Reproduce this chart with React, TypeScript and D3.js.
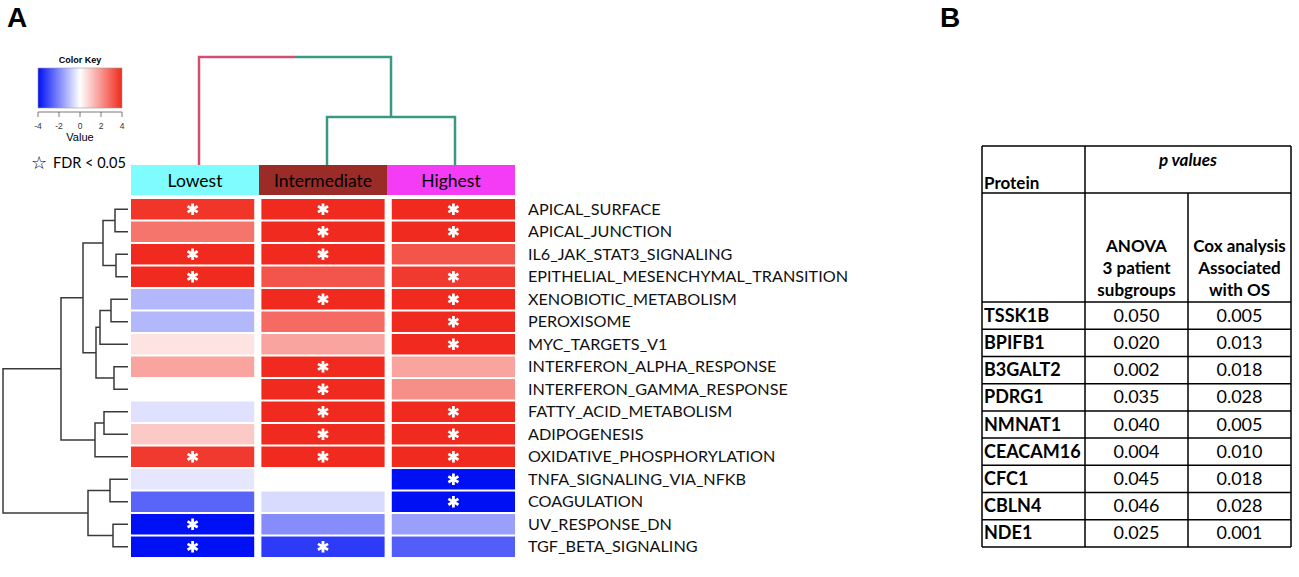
import React from 'react'
import * as d3 from 'd3'

// heatmap data (GSEA NES-like scores per subgroup)
const pathways = [
  'APICAL_SURFACE', 'APICAL_JUNCTION', 'IL6_JAK_STAT3_SIGNALING', 'EPITHELIAL_MESENCHYMAL_TRANSITION',
  'XENOBIOTIC_METABOLISM', 'PEROXISOME', 'MYC_TARGETS_V1', 'INTERFERON_ALPHA_RESPONSE',
  'INTERFERON_GAMMA_RESPONSE', 'FATTY_ACID_METABOLISM', 'ADIPOGENESIS', 'OXIDATIVE_PHOSPHORYLATION',
  'TNFA_SIGNALING_VIA_NFKB', 'COAGULATION', 'UV_RESPONSE_DN', 'TGF_BETA_SIGNALING',
]
const groups = ['Lowest', 'Intermediate', 'Highest']
const groupColors = ['#7ffcfd', '#9b2b27', '#f43cf6']

const lowestValues = [3.8, 2.6, 4, 4, -1.2, -1.2, 0.5, 1.7, 0, -0.5, 1.0, 3.7, -0.4, -2.6, -4, -4]
const intermediateValues = [4, 4, 4, 3.2, 4, 2.8, 1.7, 4, 4, 4, 4, 4, 0, -0.6, -1.9, -3.3]
const highestValues = [4, 4, 3.2, 3.7, 4, 4, 4, 1.7, 2.1, 4, 4, 4, -4, -4, -1.6, -2.7]

const lowestSig = [1, 0, 1, 1, 0, 0, 0, 0, 0, 0, 0, 1, 0, 0, 1, 1]
const intermediateSig = [1, 1, 1, 0, 1, 0, 0, 1, 1, 1, 1, 1, 0, 0, 0, 1]
const highestSig = [1, 1, 0, 1, 1, 1, 1, 0, 0, 1, 1, 1, 1, 1, 0, 0]

// hclust-style merges: negative = leaf (1-based), positive = earlier merge
const rowMerge: [number, number, number][] = [
  [-1, -2, 13], [-3, -4, 12], [1, 2, 25], [-5, -6, 17], [4, -7, 28],
  [-8, -9, 14], [5, 6, 32], [3, 7, 45], [-10, -11, 24], [9, -12, 33],
  [8, 10, 67], [-13, -14, 18], [-15, -16, 15], [12, 13, 40], [11, 14, 125],
]
const colMerge: [number, number, number][] = [[-2, -3, 48], [-1, 1, 108]]

const keyTicks = [-4, -2, 0, 2, 4]

// table B
const proteins = ['TSSK1B', 'BPIFB1', 'B3GALT2', 'PDRG1', 'NMNAT1', 'CEACAM16', 'CFC1', 'CBLN4', 'NDE1']
const anovaP = ['0.050', '0.020', '0.002', '0.035', '0.040', '0.004', '0.045', '0.046', '0.025']
const coxP = ['0.005', '0.013', '0.018', '0.028', '0.005', '0.010', '0.018', '0.028', '0.001']

const FONT = 'Lato, "Open Sans", sans-serif'
const ARIAL = '"Liberation Sans", Arial, sans-serif'

export default function App() {
  const values = [lowestValues, intermediateValues, highestValues]
  const sigs = [lowestSig, intermediateSig, highestSig]

  const color = d3.scaleLinear<string>()
    .domain([-4, 0, 4])
    .range(['#0010f5', '#ffffff', '#f02a1e'])
    .clamp(true)

  const x = d3.scaleBand().domain(groups).range([131, 515]).paddingInner(0.055)
  const xHead = d3.scaleBand().domain(groups).range([131, 515])
  const y = d3.scaleBand().domain(pathways).range([199, 557]).paddingInner(0.09)

  const star = d3.symbol(d3.symbolAsterisk, 95)()

  // row dendrogram
  const rowH = d3.scaleLinear().domain([0, 125]).range([128, 3])
  const rowPos: { x: number; y: number }[] = []
  const leafRow = (i: number) => ({ x: rowH(0), y: y(pathways[i])! + y.bandwidth() / 2 })
  const rowNode = (k: number) => (k < 0 ? leafRow(-k - 1) : rowPos[k - 1])
  const rowSegs: string[] = []
  rowMerge.forEach(([a, b, h]) => {
    const A = rowNode(a), B = rowNode(b)
    const nx = rowH(h)
    rowSegs.push(`M${A.x},${A.y}H${nx}V${B.y}H${B.x}`)
    rowPos.push({ x: nx, y: (A.y + B.y) / 2 })
  })

  // column dendrogram
  const colH = d3.scaleLinear().domain([0, 108]).range([165, 57])
  const colPos: { x: number; y: number }[] = []
  const colNode = (k: number) =>
    k < 0 ? { x: xHead(groups[-k - 1])! + xHead.bandwidth() / 2 + 4, y: colH(0) } : colPos[k - 1]
  const colSegs: { d: string; c: string }[] = []
  const pink = '#d2506e'
  const green = '#3a9a80'
  colMerge.forEach(([a, b, h], i) => {
    const A = colNode(a), B = colNode(b)
    const ny = colH(h)
    const mid = (A.x + B.x) / 2
    if (i === 0) {
      colSegs.push({ d: `M${A.x},${A.y}V${ny}H${B.x}V${B.y}`, c: green })
    } else {
      colSegs.push({ d: `M${A.x},${A.y}V${ny}H${mid}`, c: pink })
      colSegs.push({ d: `M${mid},${ny}H${B.x}V${B.y}`, c: green })
    }
    colPos.push({ x: mid, y: ny })
  })

  // color key
  const keyX = d3.scaleLinear().domain([-4, 4]).range([38, 122])
  const keyTop = 68, keyBottom = 108
  const keyStops = d3.range(-4, 4.01, 0.5)

  // table
  const tCols = [982, 1085, 1188, 1291]
  const tTop = 146, tLine1 = 193, tHeadBottom = 302
  const rowStep = (547 - tHeadBottom) / proteins.length

  return (
    <svg width={1299} height={577} style={{ position: 'absolute', left: 0, top: 0, background: '#fff' }}>
      <defs>
        <linearGradient id="keygrad" x1="0" x2="1" y1="0" y2="0">
          {keyStops.map(v => (
            <stop key={v} offset={(v + 4) / 8} stopColor={color(v)} />
          ))}
        </linearGradient>
      </defs>

      <text x={7} y={27} fontFamily={ARIAL} fontWeight="bold" fontSize={28}>A</text>
      <text x={940} y={27} fontFamily={ARIAL} fontWeight="bold" fontSize={28}>B</text>

      {/* color key */}
      <text x={80} y={63} textAnchor="middle" fontFamily={ARIAL} fontWeight="bold" fontSize={9}>Color Key</text>
      <rect x={keyX(-4)} y={keyTop} width={keyX(4) - keyX(-4)} height={keyBottom - keyTop} fill="url(#keygrad)" stroke="#999" strokeWidth={0.6} />
      <line x1={keyX(-4)} x2={keyX(4)} y1={keyBottom + 4} y2={keyBottom + 4} stroke="#555" strokeWidth={0.8} />
      {keyTicks.map(t => (
        <g key={t}>
          <line x1={keyX(t)} x2={keyX(t)} y1={keyBottom + 4} y2={keyBottom + 9} stroke="#555" strokeWidth={0.8} />
          <text x={keyX(t)} y={keyBottom + 21} textAnchor="middle" fontFamily={ARIAL} fontSize={8.5} fill="#333">{t}</text>
        </g>
      ))}
      <text x={80} y={keyBottom + 33} textAnchor="middle" fontFamily={ARIAL} fontSize={11}>Value</text>
      <text x={31} y={169} fontFamily="DejaVu Sans" fontSize={18}>☆</text>
      <text x={53} y={168} fontFamily={FONT} fontSize={14.5}>FDR &lt; 0.05</text>

      {/* column dendrogram */}
      {colSegs.map((s, i) => (
        <path key={i} d={s.d} fill="none" stroke={s.c} strokeWidth={2.5} />
      ))}

      {/* column header */}
      {groups.map((g, i) => (
        <g key={g}>
          <rect x={xHead(g)!} y={165} width={xHead.bandwidth()} height={30} fill={groupColors[i]} />
          <text x={xHead(g)! + xHead.bandwidth() / 2} y={187} textAnchor="middle" fontFamily={FONT} fontSize={17.5} fill="#000">{g}</text>
        </g>
      ))}

      {/* row dendrogram */}
      {rowSegs.map((d, i) => (
        <path key={i} d={d} fill="none" stroke="#3a3a3a" strokeWidth={1.5} />
      ))}

      {/* heatmap cells */}
      {groups.map((g, gi) =>
        pathways.map((p, pi) => {
          const v = values[gi][pi]
          const cx = x(g)! + x.bandwidth() / 2
          const cy = y(p)! + y.bandwidth() / 2
          return (
            <g key={g + p}>
              <rect x={x(g)!} y={y(p)!} width={x.bandwidth()} height={y.bandwidth()} fill={color(v)} />
              {sigs[gi][pi] ? (
                <path d={star} transform={`translate(${cx},${cy})`} fill="none" stroke="#fff" strokeWidth={2.8} />
              ) : null}
            </g>
          )
        })
      )}

      {/* row labels */}
      {pathways.map(p => (
        <text key={p} x={528} y={y(p)! + y.bandwidth() / 2 + 5.5} fontFamily={FONT} fontSize={16.2} fill="#111">{p}</text>
      ))}

      {/* table B */}
      <g fontFamily={FONT} fontSize={18} fill="#000">
        <line x1={tCols[0]} x2={tCols[3]} y1={tTop} y2={tTop} stroke="#000" strokeWidth={1.5} />
        <line x1={tCols[0]} x2={tCols[3]} y1={tLine1} y2={tLine1} stroke="#000" strokeWidth={1.5} />
        <line x1={tCols[0]} x2={tCols[3]} y1={tHeadBottom} y2={tHeadBottom} stroke="#000" strokeWidth={1.5} />
        {proteins.map((_, i) => (
          <line key={i} x1={tCols[0]} x2={tCols[3]} y1={tHeadBottom + (i + 1) * rowStep} y2={tHeadBottom + (i + 1) * rowStep} stroke="#000" strokeWidth={1.5} />
        ))}
        <line x1={tCols[0]} x2={tCols[0]} y1={tTop} y2={547} stroke="#000" strokeWidth={1.5} />
        <line x1={tCols[1]} x2={tCols[1]} y1={tTop} y2={547} stroke="#000" strokeWidth={1.5} />
        <line x1={tCols[2]} x2={tCols[2]} y1={tLine1} y2={547} stroke="#000" strokeWidth={1.5} />
        <line x1={tCols[3]} x2={tCols[3]} y1={tTop} y2={547} stroke="#000" strokeWidth={1.5} />

        <text x={tCols[0] + 2} y={189} fontWeight="bold" fontSize={17}>Protein</text>
        <text x={(tCols[1] + tCols[3]) / 2} y={166} textAnchor="middle" fontWeight="bold" fontStyle="italic" fontSize={17}>p values</text>
        {['ANOVA', '3 patient', 'subgroups'].map((t, i) => (
          <text key={t} x={(tCols[1] + tCols[2]) / 2} y={252 + i * 22} textAnchor="middle" fontWeight="bold" fontSize={17}>{t}</text>
        ))}
        {['Cox analysis', 'Associated', 'with OS'].map((t, i) => (
          <text key={t} x={(tCols[2] + tCols[3]) / 2} y={252 + i * 22} textAnchor="middle" fontWeight="bold" fontSize={17}>{t}</text>
        ))}
        {proteins.map((p, i) => {
          const cy = tHeadBottom + (i + 0.5) * rowStep + 6
          return (
            <g key={p}>
              <text x={tCols[0] + 2} y={cy} fontWeight="bold">{p}</text>
              <text x={(tCols[1] + tCols[2]) / 2} y={cy} textAnchor="middle">{anovaP[i]}</text>
              <text x={(tCols[2] + tCols[3]) / 2} y={cy} textAnchor="middle">{coxP[i]}</text>
            </g>
          )
        })}
      </g>
    </svg>
  )
}
